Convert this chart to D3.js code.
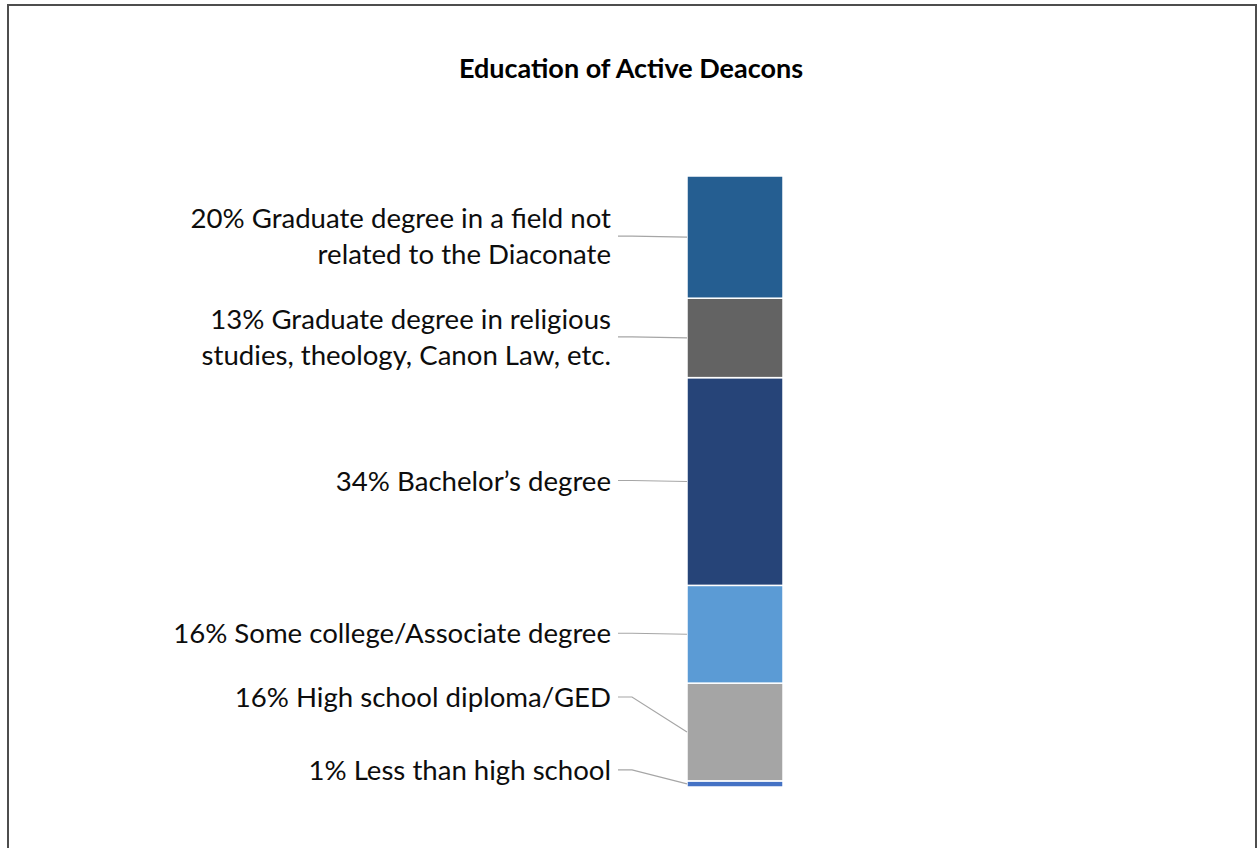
<!DOCTYPE html>
<html>
<head>
<meta charset="utf-8">
<script src="https://cdn.jsdelivr.net/npm/d3@7/dist/d3.min.js"></script>
<style>
  html, body { margin: 0; padding: 0; background: #fff; }
  svg { display: block; }
</style>
</head>
<body>
<svg id="chart" width="1259" height="848"></svg>
<script>
// Education levels, stacked from the bottom of the bar upward
const categories = [
  "Less than high school",
  "High school diploma/GED",
  "Some college/Associate degree",
  "Bachelor\u2019s degree",
  "Graduate degree in religious studies, theology, Canon Law, etc.",
  "Graduate degree in a field not related to the Diaconate"
];
const values = [1, 16, 16, 34, 13, 20];
// Label text lines for each category (same order)
const labelLines = [
  ["1% Less than high school"],
  ["16% High school diploma/GED"],
  ["16% Some college/Associate degree"],
  ["34% Bachelor\u2019s degree"],
  ["13% Graduate degree in religious", "studies, theology, Canon Law, etc."],
  ["20% Graduate degree in a field not", "related to the Diaconate"]
];
const colors = ["#4472C4", "#A5A5A5", "#5B9BD5", "#264478", "#636363", "#255E91"];
const title = "Education of Active Deacons";

const svg = d3.select("#chart");
const W = 1259, H = 848;
const FONT = "Lato, 'Open Sans', sans-serif";

// chart frame
svg.append("rect")
  .attr("x", 8).attr("y", 5)
  .attr("width", 1248).attr("height", H + 10)
  .attr("fill", "#fff")
  .attr("stroke", "#4d4d4d")
  .attr("stroke-width", 2);

svg.append("text")
  .attr("x", 631).attr("y", 78)
  .attr("text-anchor", "middle")
  .attr("font-family", FONT)
  .attr("font-weight", "bold")
  .attr("font-size", 27)
  .attr("fill", "#000")
  .text(title);

// scales
const x = d3.scaleBand().domain(["Deacons"]).range([687, 783]).padding(0);
const y = d3.scaleLinear().domain([0, d3.sum(values)]).range([787, 176]);

// stack the segments
let acc = 0;
const segs = values.map((v, i) => {
  const s = { i, v, y0: acc, y1: acc + v, cat: categories[i] };
  acc += v;
  return s;
});

const barX = x("Deacons"), barW = x.bandwidth();

svg.append("g").selectAll("rect")
  .data(segs)
  .join("rect")
  .attr("x", barX)
  .attr("y", d => y(d.y1))
  .attr("width", barW)
  .attr("height", d => y(d.y0) - y(d.y1))
  .attr("fill", d => colors[d.i])
  .attr("stroke", "#fff")
  .attr("stroke-width", 1.5);

// labels sit to the left of the bar; the two smallest bottom segments
// have their labels lifted so the text does not collide
const labelRight = 611;
const labelLift = { 0: -13, 1: -34 };
const lineH = 36;

const lg = svg.append("g");
segs.forEach(d => {
  const mid = (y(d.y0) + y(d.y1)) / 2;
  const ly = mid + (labelLift[d.i] || 0);
  const lines = labelLines[d.i];
  const t = lg.append("text")
    .attr("text-anchor", "end")
    .attr("font-family", FONT)
    .attr("font-size", 27.6)
    .attr("fill", "#0d0d0d");
  lines.forEach((ln, k) => {
    t.append("tspan")
      .attr("x", labelRight)
      .attr("y", ly + (k - (lines.length - 1) / 2) * lineH)
      .attr("dy", "0.33em")
      .text(ln);
  });
  // leader line from label to bar edge
  const pts = [[labelRight + 7, ly - 1], [labelRight + 21, ly - 1], [barX, mid]];
  lg.append("path")
    .attr("d", d3.line()(pts))
    .attr("fill", "none")
    .attr("stroke", "#a6a6a6")
    .attr("stroke-width", 1.2);
});
</script>
</body>
</html>
